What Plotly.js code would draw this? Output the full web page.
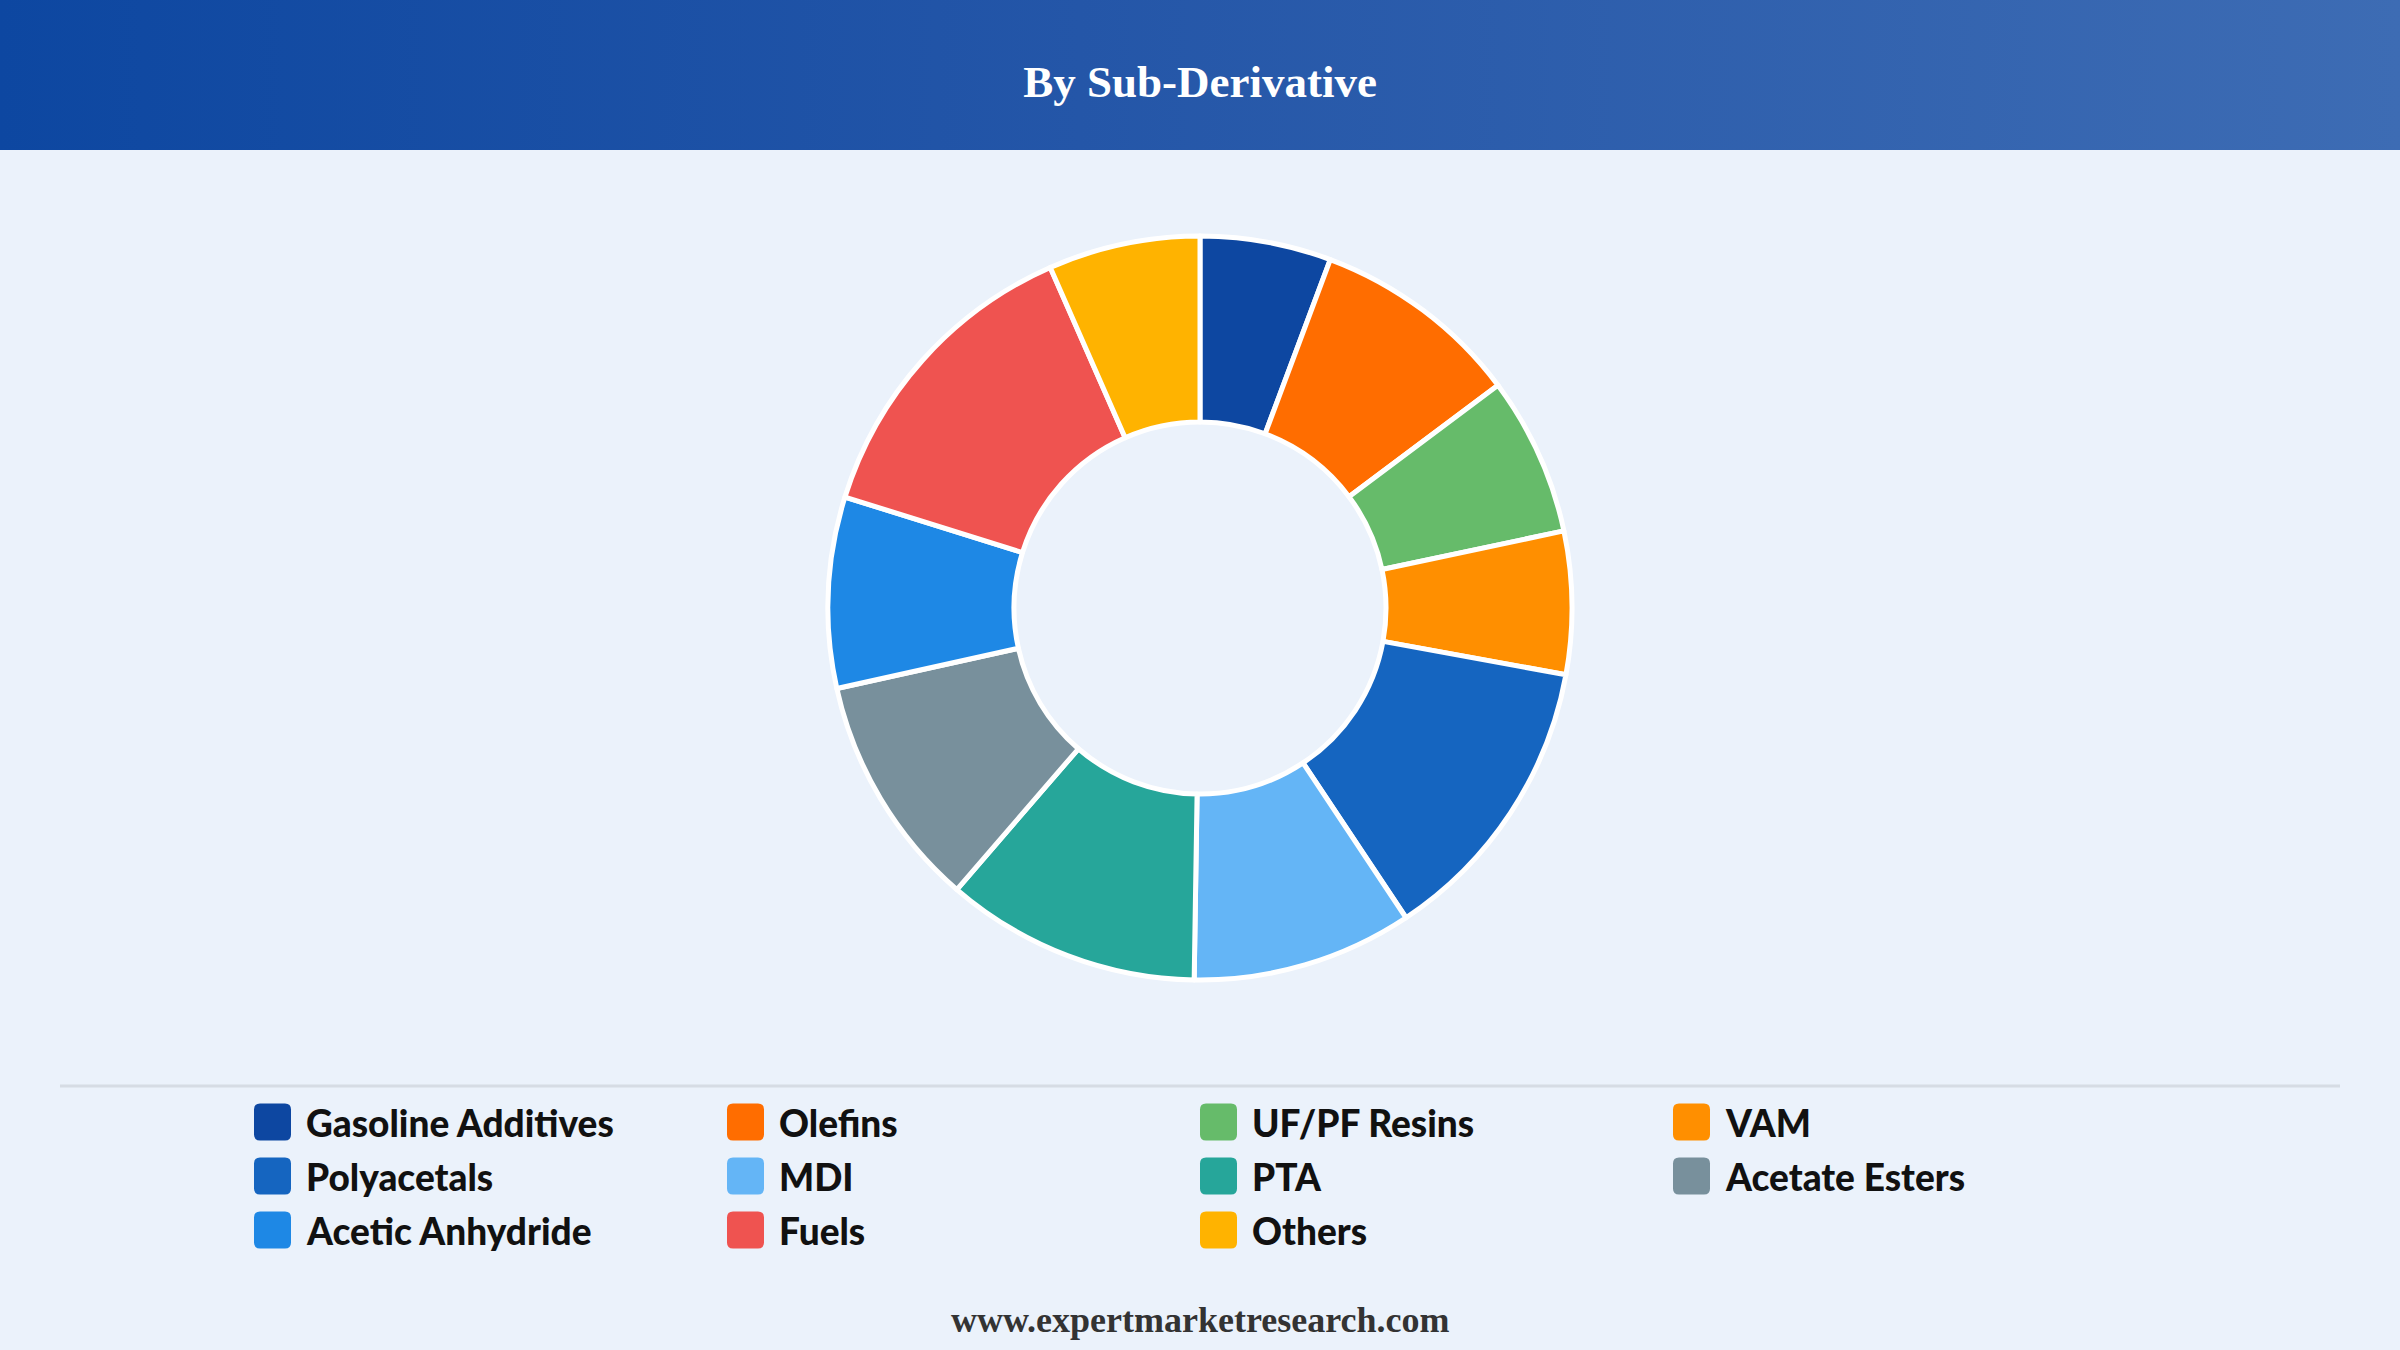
<!DOCTYPE html>
<html>
<head>
<meta charset="utf-8">
<script src="https://cdn.plot.ly/plotly-3.0.1.min.js"></script>
<style>
  html, body { margin: 0; padding: 0; background: #EBF2FB; }
  #wrap { position: relative; width: 2400px; height: 1350px; overflow: hidden; }
  #header { position: absolute; left: 0; top: 0; width: 2400px; height: 150px;
            background: linear-gradient(90deg, #0D47A1 0%, #2456A8 45%, #3D6CB4 100%); }
  #chart { position: absolute; left: 0; top: 0; width: 2400px; height: 1350px; }
</style>
</head>
<body>
<div id="wrap">
  <div id="header"></div>
  <div id="chart"></div>
</div>
<script>
const categories = ["Gasoline Additives", "Olefins", "UF/PF Resins", "VAM", "Polyacetals", "MDI", "PTA", "Acetate Esters", "Acetic Anhydride", "Fuels", "Others"];
const shares = [5.7, 9.1, 6.9, 6.2, 12.8, 9.6, 11.1, 10.2, 8.3, 13.6, 6.6];
const colors = ["#0D47A1", "#FF6D00", "#66BB6A", "#FF8F00", "#1565C0", "#64B5F6", "#26A69A", "#78909C", "#1E88E5", "#EF5350", "#FFB300"];
const titleText = "By Sub-Derivative";
const footerText = "www.expertmarketresearch.com";

const W = 2400, H = 1350;
const px = x => x / W;
const py = y => 1 - y / H;

const cx = 1200, cy = 608, R = 372;

const trace = {
  type: "pie",
  labels: categories,
  values: shares,
  hole: 0.5,
  sort: false,
  direction: "clockwise",
  rotation: 0,
  textinfo: "none",
  hoverinfo: "label+percent",
  marker: { colors: colors, line: { color: "#FFFFFF", width: 5 } },
  domain: { x: [px(cx - R), px(cx + R)], y: [py(cy + R), py(cy - R)] },
  showlegend: false
};

const shapes = [];
const annotations = [];

// separator line
shapes.push({ type: "line", xref: "paper", yref: "paper",
  x0: px(60), x1: px(2340), y0: py(1086), y1: py(1086),
  line: { color: "#D6DCE4", width: 3 } });

// legend built from the category arrays
const colStart = 254, colStep = 473, rowStart = 1122, rowStep = 54, sq = 37, rad = 6;
function roundedRect(x, y, s, r) {
  const x0 = px(x), x1 = px(x + s), y0 = py(y), y1 = py(y + s);
  const rx = r / W, ry = r / H;
  return `M ${x0 + rx},${y0} L ${x1 - rx},${y0} Q ${x1},${y0} ${x1},${y0 - ry} L ${x1},${y1 + ry} Q ${x1},${y1} ${x1 - rx},${y1} L ${x0 + rx},${y1} Q ${x0},${y1} ${x0},${y1 + ry} L ${x0},${y0 - ry} Q ${x0},${y0} ${x0 + rx},${y0} Z`;
}
categories.forEach((name, i) => {
  const col = i % 4, row = Math.floor(i / 4);
  const x = colStart + col * colStep;
  const yc = rowStart + row * rowStep;
  shapes.push({ type: "path", xref: "paper", yref: "paper",
    path: roundedRect(x, yc - sq / 2, sq, rad),
    fillcolor: colors[i], line: { width: 0 } });
  annotations.push({ xref: "paper", yref: "paper", x: px(x + 50), y: py(yc),
    xanchor: "left", yanchor: "middle", showarrow: false, text: name,
    font: { family: "Lato, 'Noto Sans', sans-serif", size: 37, color: "#111111", weight: 900 } });
});

// footer
annotations.push({ xref: "paper", yref: "paper", x: 0.5, y: py(1320),
  xanchor: "center", yanchor: "middle", showarrow: false,
  text: "<b>" + footerText + "</b>",
  font: { family: "'Liberation Serif', 'DejaVu Serif', serif", size: 36, color: "#333333" } });

const layout = {
  width: W, height: H,
  margin: { l: 0, r: 0, t: 0, b: 0, pad: 0 },
  paper_bgcolor: "rgba(0,0,0,0)",
  plot_bgcolor: "rgba(0,0,0,0)",
  title: { text: "<b>" + titleText + "</b>", x: 0.5, xanchor: "center",
           y: py(81), yanchor: "middle", yref: "paper",
           font: { family: "'Liberation Serif', 'DejaVu Serif', serif", size: 45, color: "#FFFFFF" } },
  shapes: shapes,
  annotations: annotations,
  showlegend: false
};

Plotly.newPlot("chart", [trace], layout, { displayModeBar: false, responsive: false });
</script>
</body>
</html>
